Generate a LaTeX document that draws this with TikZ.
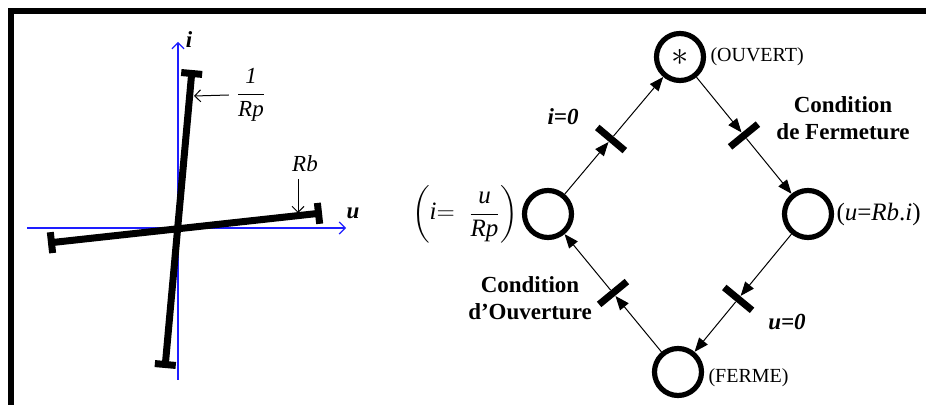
\documentclass[tikz,border=0pt]{standalone}
\usepackage{fontspec}
\usepackage{amsmath}
\setmainfont{Liberation Serif}
\usetikzlibrary{arrows.meta, positioning, calc}
\definecolor{axisblue}{RGB}{30,30,255}

\begin{document}
\begin{tikzpicture}[
    x=0.5pt, y=-0.5pt,
    font=\fontsize{11.5}{13.5}\selectfont,
    axis/.style={axisblue, line width=0.6pt, -{Straight Barb[length=3pt, width=6pt]}},
    charac/.style={line width=3.5pt, {Bar[width=10.5pt]}-{Bar[width=10.5pt]}},
    note/.style={line width=0.5pt, -{Straight Barb[length=3pt, width=6pt]}},
    place/.style={circle, draw, line width=2.6pt, minimum size=23.5pt, inner sep=0pt},
    trans/.style={fill, rectangle, sloped, minimum width=3.5pt, minimum height=18pt, inner sep=0pt},
    arc/.style={line width=0.5pt, -{Triangle[length=7pt, width=5.5pt]}},
    cond/.style={font=\fontsize{11.5}{13.5}\selectfont\bfseries, align=center},
    small/.style={font=\fontsize{10}{12}\selectfont, inner sep=0pt}
]
\useasboundingbox (0,0) rectangle (926,405);

\draw[line width=3pt] (10.5,405) |- (926,11);

% caracteristique u-i
\coordinate (ibot) at (178,380);
\coordinate (itop) at (178,42);
\coordinate (uleft) at (27,228);
\coordinate (uright) at (346,228);
\draw[axis] (ibot) -- (itop);
\draw[axis] (uleft) -- (uright);
\node[font=\fontsize{11.5}{13.5}\selectfont\bfseries\itshape] (ilab) at (189,40) {i};
\node[font=\fontsize{11.5}{13.5}\selectfont\bfseries\itshape] (ulab) at (353,213) {u};

\coordinate (rptop) at (192,70);
\coordinate (rpbot) at (165,368);
\coordinate (rbleft) at (48,243);
\coordinate (rbright) at (322,213);
\draw[charac] (rpbot) -- (rptop);
\draw[charac] (rbleft) -- (rbright);

\node (rplab) at (251,95) {$\dfrac{\textit{1}}{\textit{Rp}}$};
\coordinate (rphit) at (194,96);
\draw[note] (rplab.west) -- (rphit);
\node (rblab) at (305,164) {\textit{Rb}};
\coordinate (rbhit) at (298,213);
\draw[note] (rblab.south -| rbhit) -- (rbhit);

% reseau de Petri
\node[place] (ouvert) at (680,57) {\fontsize{16}{16}\selectfont$*$};
\node[place] (fermant) at (808,214) {};
\node[place] (ferme) at (678,372) {};
\node[place] (ouvrant) at (548,214) {};

\path (ouvrant) -- node[trans, pos=0.47] (t1) {} (ouvert);
\path (ouvert) -- node[trans, pos=0.5] (t2) {} (fermant);
\path (fermant) -- node[trans, pos=0.55] (t3) {} (ferme);
\path (ferme) -- node[trans, pos=0.5] (t4) {} (ouvrant);

\draw[arc] (ouvrant) -- (t1);
\draw[arc] (t1) -- (ouvert);
\draw[arc] (ouvert) -- (t2);
\draw[arc] (t2) -- (fermant);
\draw[arc] (fermant) -- (t3);
\draw[arc] (t3) -- (ferme);
\draw[arc] (ferme) -- (t4);
\draw[arc] (t4) -- (ouvrant);

\node[small, right=2pt of ouvert] (lbouvert) {(OUVERT)};
\node[small, right=2pt of ferme, yshift=-3pt] (lbferme) {(FERME)};
\node[inner sep=0pt, font=\fontsize{12.5}{14}\selectfont, right=1pt of fermant] (lbfermant) {(\textit{u}=\textit{Rb}.\textit{i})};
\node[inner sep=0pt, font=\fontsize{12.5}{14}\selectfont, left=1.5pt of ouvrant] (lbouvrant) {$\left(\textit{i}{=}\;\;\dfrac{\textit{u}}{\textit{Rp}}\right)$};

\node[font=\fontsize{11.5}{13.5}\selectfont\bfseries\itshape] (ci0) at (563,117) {i=0};
\node[cond] (cferm) at (843,118) {Condition\\de Fermeture};
\node[cond] (couv) at (530,298) {Condition\\d’Ouverture};
\node[font=\fontsize{11.5}{13.5}\selectfont\bfseries\itshape] (cu0) at (787,322) {u=0};
\end{tikzpicture}
\end{document}
